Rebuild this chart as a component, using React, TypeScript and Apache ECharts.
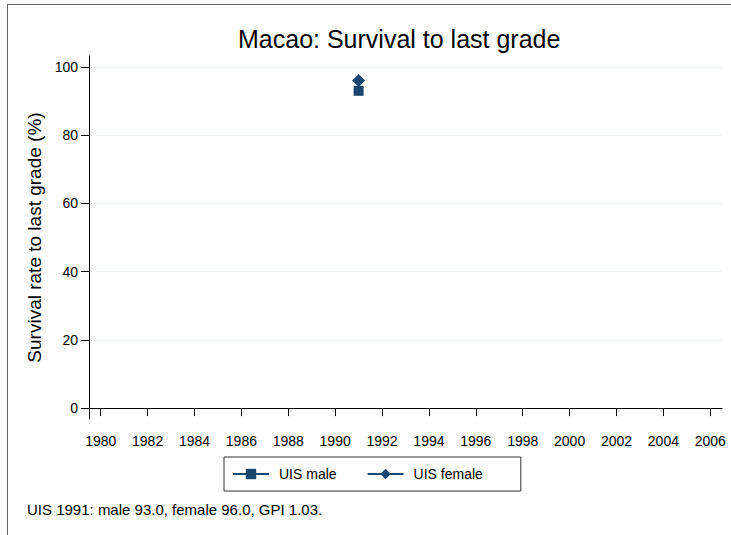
import React, { useEffect, useRef } from "react";
import * as echarts from "echarts";

const titleText = "Macao: Survival to last grade";
const noteText = "UIS 1991: male 93.0, female 96.0, GPI 1.03.";
const yAxisName = "Survival rate to last grade (%)";
const seriesNames = ["UIS male", "UIS female"];
const years = [1991];
const maleValues = [93.0];
const femaleValues = [96.0];
const xTicks = [1980, 1982, 1984, 1986, 1988, 1990, 1992, 1994, 1996, 1998, 2000, 2002, 2004, 2006];
const yTicks = [0, 20, 40, 60, 80, 100];

const FONT = "'Liberation Sans', Arial, Helvetica, sans-serif";
const NAVY = "#1a476f";

export default function App() {
  const ref = useRef<HTMLDivElement>(null);
  useEffect(() => {
    if (!ref.current) return;
    const chart = echarts.init(ref.current, null, { renderer: "svg" });
    chart.setOption({
      animation: false,
      backgroundColor: "#ffffff",
      textStyle: { fontFamily: FONT },
      title: [
        {
          text: titleText,
          left: 233,
          top: 21,
          textStyle: { fontFamily: FONT, fontSize: 25, fontWeight: "normal", color: "#000" },
        },
        {
          text: noteText,
          left: 22,
          top: 497,
          textStyle: { fontFamily: FONT, fontSize: 15, fontWeight: "normal", color: "#000" },
        },
      ],
      grid: { left: 89, right: 9, top: 56, bottom: 116, containLabel: false },
      legend: {
        data: seriesNames,
        left: 224,
        top: 457,
        orient: "horizontal",
        borderColor: "#333",
        borderWidth: 1,
        padding: [10, 38, 10, 8],
        itemWidth: 36,
        itemHeight: 13,
        itemGap: 30,
        textStyle: { fontFamily: FONT, fontSize: 14, color: "#000", padding: [0, 0, 0, 5] },
      },
      xAxis: {
        type: "value",
        min: 1979.5,
        max: 2006.5,
        axisLine: { show: true, lineStyle: { color: "#000", width: 1 } },
        axisTick: { show: true, customValues: xTicks, length: 8, lineStyle: { color: "#000" } },
        axisLabel: {
          customValues: xTicks,
          formatter: (v: number) => String(v),
          fontFamily: FONT,
          fontSize: 14,
          color: "#000",
          margin: 15,
        },
        splitLine: { show: false },
      },
      yAxis: {
        type: "value",
        min: -3.2,
        max: 103.2,
        name: yAxisName,
        nameLocation: "middle",
        nameGap: 38,
        nameTextStyle: { fontFamily: FONT, fontSize: 19, color: "#000" },
        axisLine: { show: true, lineStyle: { color: "#000", width: 1 } },
        axisTick: { show: true, customValues: yTicks, length: 8, lineStyle: { color: "#000" } },
        axisLabel: {
          customValues: yTicks,
          formatter: (v: number) => String(v),
          fontFamily: FONT,
          fontSize: 14,
          color: "#000",
          margin: 11,
        },
        splitLine: { show: true, lineStyle: { color: "#eaf2f3", width: 1 } },
      },
      series: [
        {
          name: seriesNames[0],
          type: "line",
          data: years.map((y, i) => [y, maleValues[i]]),
          symbol: "rect",
          symbolSize: 10,
          itemStyle: { color: NAVY },
          lineStyle: { color: NAVY, width: 1.5 },
          z: 2,
        },
        {
          name: seriesNames[1],
          type: "line",
          data: years.map((y, i) => [y, femaleValues[i]]),
          symbol: "diamond",
          symbolSize: 13,
          itemStyle: { color: NAVY },
          lineStyle: { color: NAVY, width: 1.5 },
          z: 3,
        },
      ],
    });
    return () => chart.dispose();
  }, []);

  return (
    <div style={{ position: "fixed", left: 0, top: 0, width: 731, height: 535, background: "#fff" }}>
      <div ref={ref} style={{ position: "absolute", left: 0, top: 0, width: 731, height: 535 }} />
      <div
        style={{
          position: "absolute",
          left: 7,
          top: 4,
          width: 724,
          height: 531,
          borderTop: "1px solid #666",
          borderLeft: "1px solid #666",
          pointerEvents: "none",
        }}
      />
    </div>
  );
}
